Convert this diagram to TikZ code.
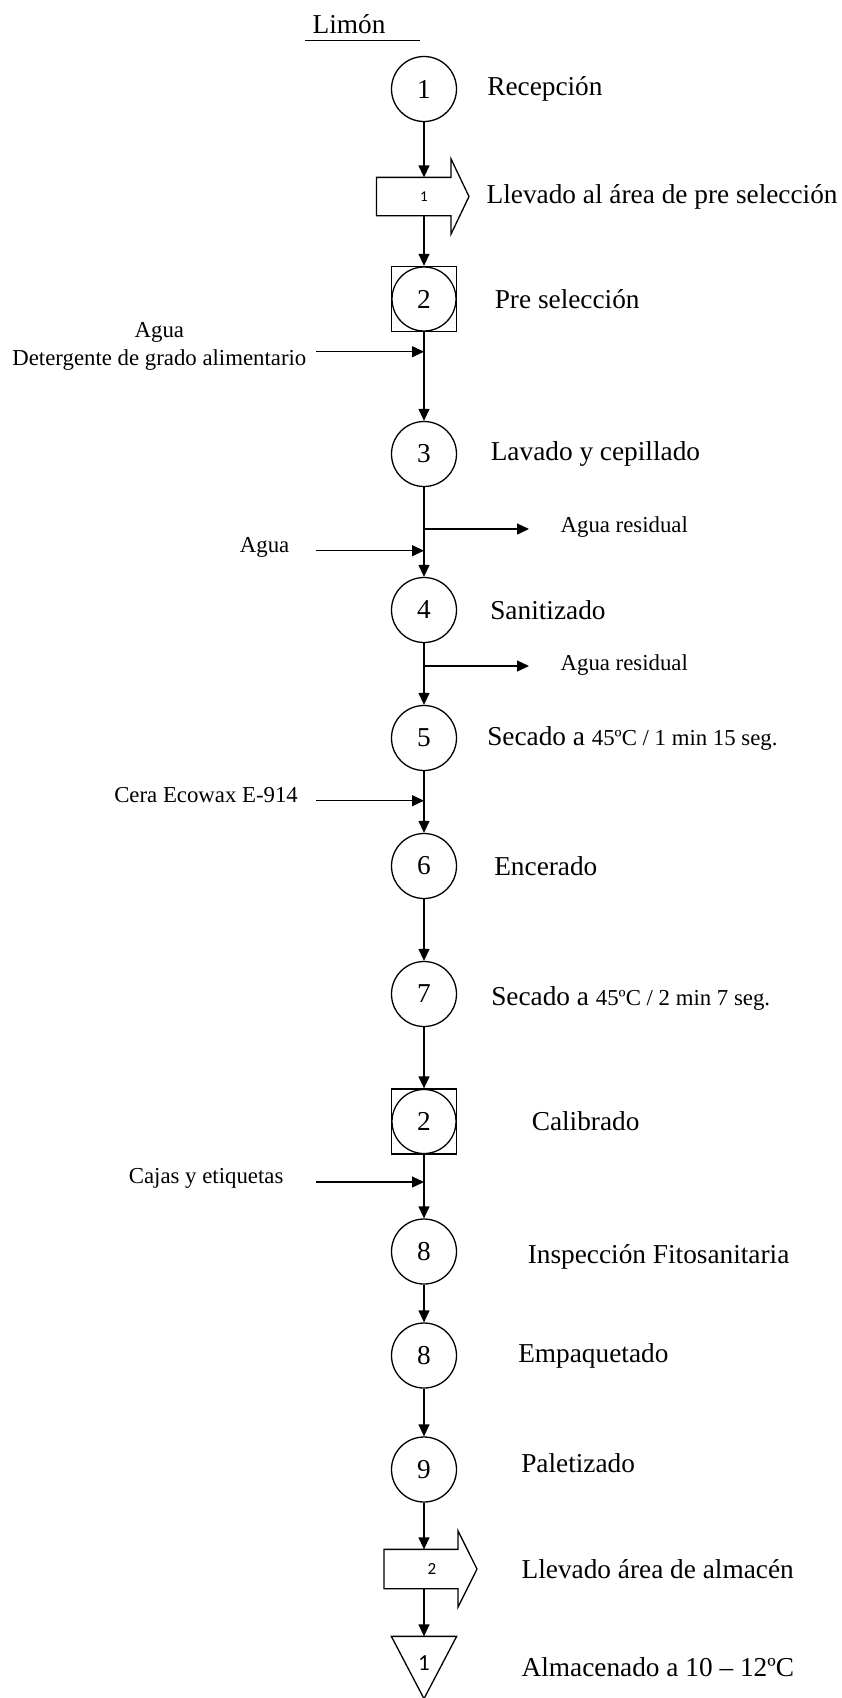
\documentclass[tikz,border=0pt]{standalone}
\usepackage{fontspec}
\setmainfont{Liberation Serif}
\newfontfamily\numfont{Carlito}
\usetikzlibrary{arrows.meta,positioning}

\tikzset{
  proc/.style={circle, draw, minimum size=65pt, inner sep=0pt, font=\fontsize{27.3}{32}\selectfont},
  insp/.style={rectangle, draw, minimum size=65pt, inner sep=0pt, font=\fontsize{27.3}{32}\selectfont,
    path picture={\draw (path picture bounding box.center) circle (32pt);}},
  move/.style={rectangle, minimum height=37pt, inner sep=0pt, font=\numfont\fontsize{15}{18}\selectfont},
  store/.style={rectangle, minimum width=64pt, minimum height=61pt, inner sep=0pt},
  tag/.style={inner sep=0pt, font=\numfont\fontsize{17}{20}\selectfont},
  lbl/.style={inner sep=0pt, font=\fontsize{27.3}{32}\selectfont},
  side/.style={inner sep=0pt, font=\fontsize{22.8}{28}\selectfont}
}

\begin{document}
\begin{tikzpicture}[->,>={Triangle[length=12pt,width=11pt]},line width=1.3pt,node distance=2cm]
  \useasboundingbox (0,0) rectangle (842pt,-1698pt);

  \node [proc] (C1) at (424pt,-89pt) {1};
  \node [move, node distance=107.5pt, below of=C1] (T1) {1};
  \node [insp, node distance=102.5pt, below of=T1] (S1) {2};
  \node [proc, node distance=155pt, below of=S1] (C3) {3};
  \node [proc, node distance=156pt, below of=C3] (C4) {4};
  \node [proc, node distance=128pt, below of=C4] (C5) {5};
  \node [proc, node distance=128pt, below of=C5] (C6) {6};
  \node [proc, node distance=128pt, below of=C6] (C7) {7};
  \node [insp, node distance=127.5pt, below of=C7] (S2) {2};
  \node [proc, node distance=130pt, below of=S2] (C8) {8};
  \node [proc, node distance=104pt, below of=C8] (C9) {8};
  \node [proc, node distance=114pt, below of=C9] (C10) {9};
  \node [move, minimum height=38pt, node distance=99.5pt, below of=C10] (T2) {};
  \node [tag] (n2) at ([xshift=8pt]T2.center) {2};
  \node [store, node distance=98.5pt, below of=T2] (A1) {};
  \node [tag, font=\numfont\fontsize{23}{26}\selectfont] (n1) at ([yshift=4.5pt]A1.center) {1};

  % title
  \node [lbl] (title) at ([shift={(-75pt,65pt)}]C1.center) {Limón};
  \draw [-] ([shift={(-44pt,-6.5pt)}]title.south) -- ([shift={(71pt,-6.5pt)}]title.south);

  % shapes for transport and storage
  \draw [-] ([xshift=-47.5pt]T1.north) -- ([xshift=27pt]T1.north) -- ([shift={(27pt,18.5pt)}]T1.north)
    -- ([xshift=45pt]T1.center) -- ([shift={(27pt,-18.5pt)}]T1.south) -- ([xshift=27pt]T1.south)
    -- ([xshift=-47.5pt]T1.south) -- cycle;
  \draw [-] ([xshift=-40pt]T2.north) -- ([xshift=34pt]T2.north) -- ([shift={(34pt,18.5pt)}]T2.north)
    -- ([xshift=53pt]T2.center) -- ([shift={(34pt,-18.5pt)}]T2.south) -- ([xshift=34pt]T2.south)
    -- ([xshift=-40pt]T2.south) -- cycle;
  \draw [-] (A1.north west) -- (A1.north east) -- (A1.south) -- cycle;

  % main flow
  \path (C1) edge (T1);
  \path (T1) edge (S1);
  \path (S1) edge (C3);
  \path (C3) edge (C4);
  \path (C4) edge (C5);
  \path (C5) edge (C6);
  \path (C6) edge (C7);
  \path (C7) edge (S2);
  \path (S2) edge (C8);
  \path (C8) edge (C9);
  \path (C9) edge (C10);
  \path (C10) edge (T2);
  \path (T2) edge (A1);

  % inputs and outputs
  \coordinate (j1) at ([yshift=-52.7pt]S1.center);
  \coordinate (w1) at ([xshift=-108pt]j1);
  \path (w1) edge (j1);
  \node [side, align=center, left=9pt of w1, yshift=5.7pt] (in1) {Agua\\Detergente de grado alimentario};

  \coordinate (j2) at ([yshift=-75pt]C3.center);
  \coordinate (r1) at ([xshift=105pt]j2);
  \path (j2) edge (r1);
  \node [side, right=31pt of r1, yshift=2pt] (out1) {Agua residual};

  \coordinate (j3) at ([yshift=59.3pt]C4.center);
  \coordinate (w2) at ([xshift=-108pt]j3);
  \path (w2) edge (j3);
  \node [side, left=26pt of w2, yshift=3.7pt] (in2) {Agua};

  \coordinate (j4) at ([yshift=-56pt]C4.center);
  \coordinate (r2) at ([xshift=105pt]j4);
  \path (j4) edge (r2);
  \node [side, right=31pt of r2, yshift=1pt] (out2) {Agua residual};

  \coordinate (j5) at ([yshift=65.3pt]C6.center);
  \coordinate (w3) at ([xshift=-108pt]j5);
  \path (w3) edge (j5);
  \node [side, left=17.5pt of w3, yshift=5.7pt] (in3) {Cera Ecowax E-914};

  \coordinate (j6) at ([yshift=69.5pt]C8.center);
  \coordinate (w4) at ([xshift=-108pt]j6);
  \path (w4) edge (j6);
  \node [side, left=32pt of w4, yshift=4pt] (in4) {Cajas y etiquetas};

  % step names
  \node [lbl, right=29.5pt of C1] (l1) {Recepción};
  \node [lbl, right=62pt of T1.center] (l2) {Llevado al área de pre selección};
  \node [lbl, right=37pt of S1] (l3) {Pre selección};
  \node [lbl, right=33pt of C3] (l4) {Lavado y cepillado};
  \node [lbl, right=32.5pt of C4] (l5) {Sanitizado};
  \node [lbl, right=29.5pt of C5] (l6) {Secado a {\fontsize{22.8}{28}\selectfont 45ºC / 1 min 15 seg.}};
  \node [lbl, right=36.5pt of C6] (l7) {Encerado};
  \node [lbl, right=33.5pt of C7, yshift=-4pt] (l8) {Secado a {\fontsize{22.8}{28}\selectfont 45ºC / 2 min 7 seg.}};
  \node [lbl, right=74pt of S2] (l9) {Calibrado};
  \node [lbl, right=70pt of C8, yshift=-5pt] (l10) {Inspección Fitosanitaria};
  \node [lbl, right=60.5pt of C9] (l11) {Empaquetado};
  \node [lbl, right=63.5pt of C10, yshift=6pt] (l12) {Paletizado};
  \node [lbl, right=97pt of T2.center] (l13) {Llevado área de almacén};
  \node [lbl, right=97pt of A1.center] (l14) {Almacenado a 10 – 12ºC};
\end{tikzpicture}
\end{document}
